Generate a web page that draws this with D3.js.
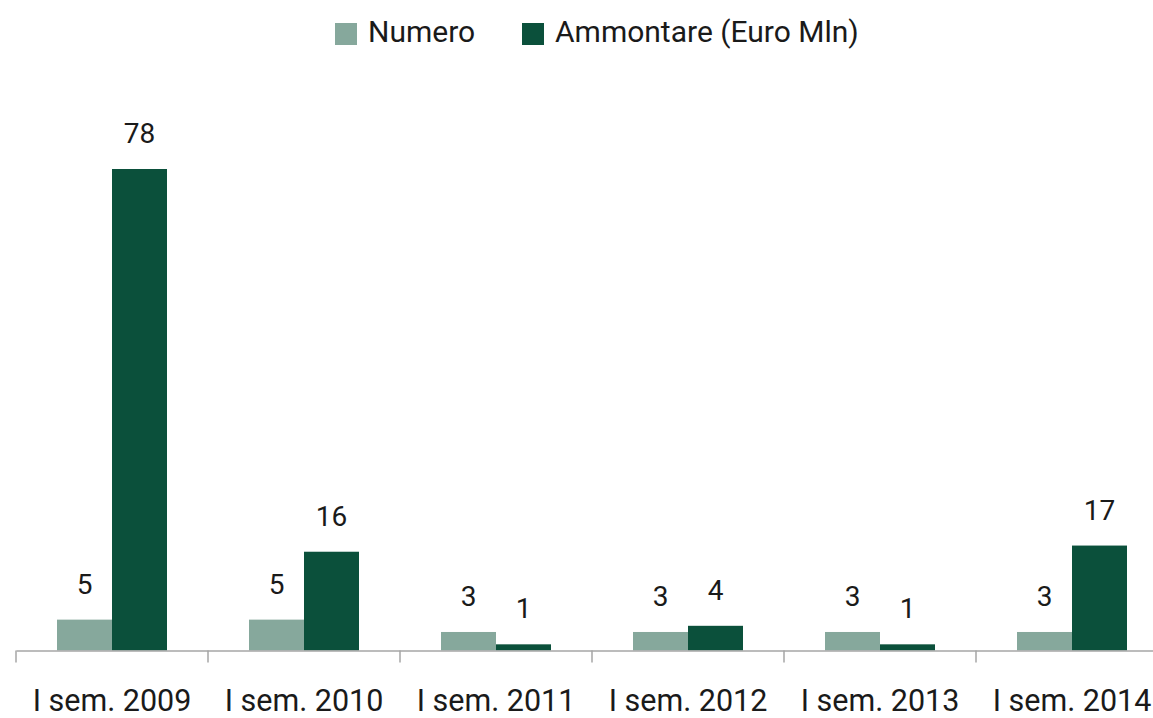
<!DOCTYPE html>
<html>
<head>
<meta charset="utf-8">
<script src="https://cdn.jsdelivr.net/npm/d3@7"></script>
<style>
  body { margin: 0; background: #fff; }
  svg text { font-family: "Roboto", "Noto Sans", sans-serif; fill: #1a1a1a; }
</style>
</head>
<body>
<div id="chart"></div>
<script>
const categories = ["I sem. 2009", "I sem. 2010", "I sem. 2011", "I sem. 2012", "I sem. 2013", "I sem. 2014"];
const seriesNames = ["Numero", "Ammontare (Euro Mln)"];
const numero = [5, 5, 3, 3, 3, 3];
const ammontare = [78, 16, 1, 4, 1, 17];
const colors = ["#86a89c", "#0b503b"];

const width = 1153, height = 718;
const margin = { left: 16, right: -15, top: 0, bottom: 0 };
const baseY = 650.5;

const svg = d3.select("#chart").append("svg")
    .attr("width", width)
    .attr("height", height);

const x = d3.scaleBand()
    .domain(categories)
    .range([margin.left, width - margin.right])
    .paddingInner(0)
    .paddingOuter(0);

const inner = d3.scaleBand()
    .domain(seriesNames)
    .range([41, x.bandwidth() - 41])
    .padding(0);

const y = d3.scaleLinear()
    .domain([0, 78])
    .range([baseY, 169]);

const data = categories.map((c, i) => ({
    category: c,
    values: [
        { name: seriesNames[0], value: numero[i] },
        { name: seriesNames[1], value: ammontare[i] }
    ]
}));

const groups = svg.selectAll("g.cat")
    .data(data)
    .enter()
    .append("g")
    .attr("class", "cat")
    .attr("transform", d => `translate(${x(d.category)},0)`);

groups.selectAll("rect")
    .data(d => d.values)
    .enter()
    .append("rect")
    .attr("x", d => inner(d.name))
    .attr("width", inner.bandwidth())
    .attr("y", d => y(d.value))
    .attr("height", d => baseY - y(d.value))
    .attr("fill", (d, i) => colors[i]);

groups.selectAll("text.val")
    .data(d => d.values)
    .enter()
    .append("text")
    .attr("class", "val")
    .attr("x", d => inner(d.name) + inner.bandwidth() / 2)
    .attr("y", d => y(d.value) - 26)
    .attr("text-anchor", "middle")
    .style("font-size", "28px")
    .text(d => d.value);

// axis
const axis = svg.append("g")
    .attr("transform", `translate(0,${baseY})`)
    .call(d3.axisBottom(x).tickSize(0).tickFormat(""));
axis.select(".domain").attr("stroke", "#a6a6a6").attr("stroke-width", 1.5);

svg.selectAll("line.tick")
    .data(categories)
    .enter()
    .append("line")
    .attr("class", "tick")
    .attr("x1", d => x(d))
    .attr("x2", d => x(d))
    .attr("y1", baseY)
    .attr("y2", baseY + 12)
    .attr("stroke", "#a6a6a6")
    .attr("stroke-width", 1.5);

svg.selectAll("text.cat")
    .data(categories)
    .enter()
    .append("text")
    .attr("class", "cat")
    .attr("x", d => x(d) + x.bandwidth() / 2)
    .attr("y", 711)
    .attr("text-anchor", "middle")
    .style("font-size", "30.5px")
    .text(d => d);

// legend
const legendX = [335, 522];
const legend = svg.selectAll("g.legend")
    .data(seriesNames)
    .enter()
    .append("g")
    .attr("class", "legend")
    .attr("transform", (d, i) => `translate(${legendX[i]},23)`);

legend.append("rect")
    .attr("width", 22)
    .attr("height", 22)
    .attr("fill", (d, i) => colors[i]);

legend.append("text")
    .attr("x", 33)
    .attr("y", 19)
    .style("font-size", "30px")
    .text(d => d);
</script>
</body>
</html>
